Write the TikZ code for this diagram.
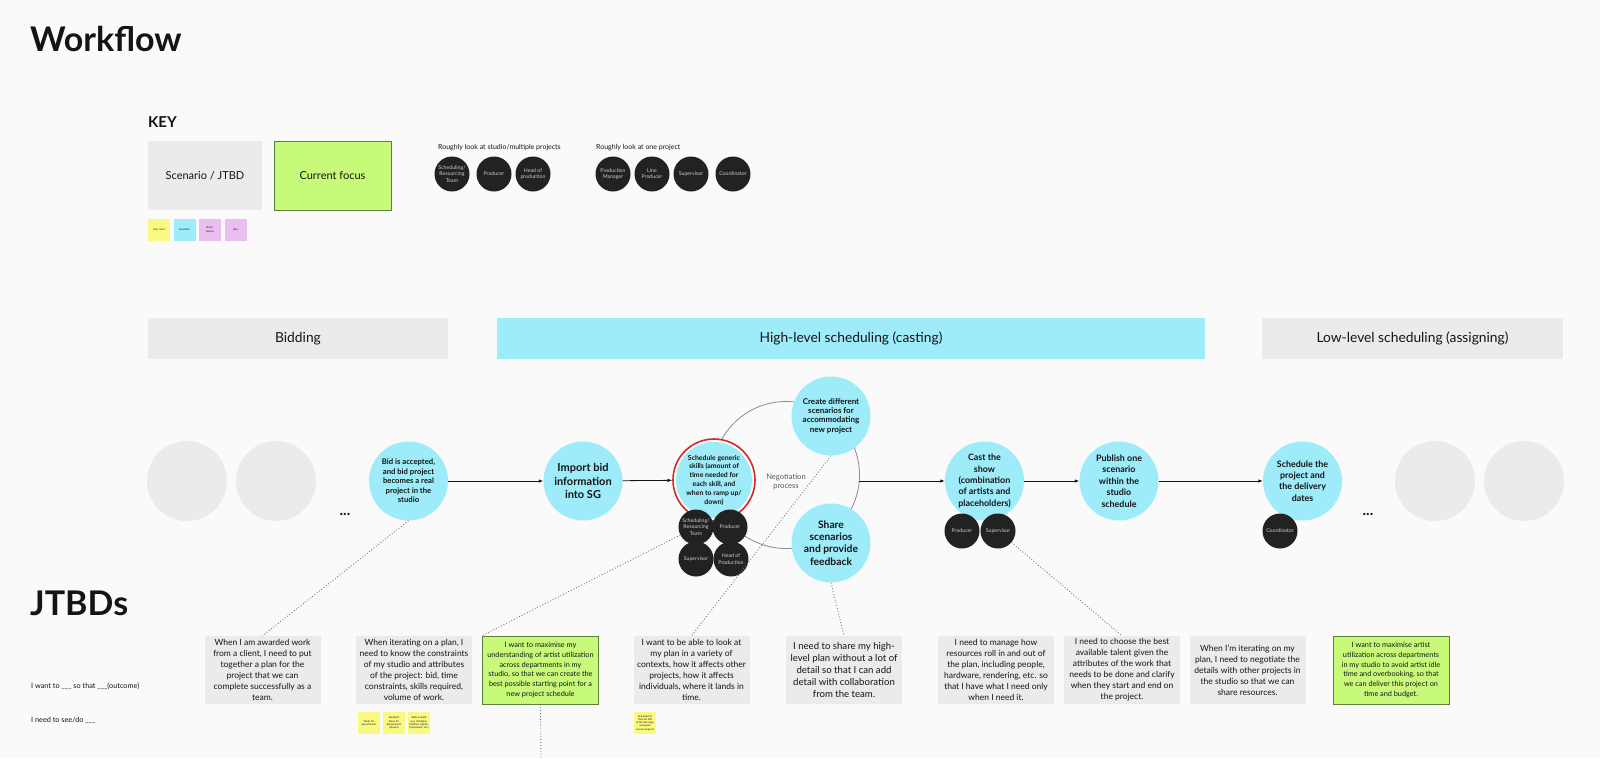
\documentclass[tikz,border=0pt]{standalone}
\usepackage{fontspec}
\setmainfont{Lato}
\usetikzlibrary{arrows.meta}
\definecolor{bg}{RGB}{250,250,250}
\definecolor{cyanc}{RGB}{158,235,250}
\definecolor{grayc}{RGB}{235,235,235}
\definecolor{greenc}{RGB}{200,250,122}
\definecolor{greenb}{RGB}{95,125,60}
\definecolor{darkc}{RGB}{34,34,34}
\definecolor{roletext}{RGB}{205,205,205}
\definecolor{yellowc}{RGB}{250,250,130}
\definecolor{pinkc}{RGB}{235,190,240}
\definecolor{redc}{RGB}{215,40,40}
\definecolor{inkc}{RGB}{20,20,20}
\definecolor{negc}{RGB}{140,140,140}
\definecolor{linkc}{RGB}{120,120,120}
\newcommand\fsz[2]{\fontsize{#1}{#2}\selectfont}
\begin{document}
\begin{tikzpicture}[x=1pt,y=-1pt,
  every node/.style={inner sep=0pt, text=inkc},
  stage/.style={circle, fill=cyanc, minimum size=79pt, align=center, font=\bfseries\fsz{8.9}{11.4}},
  ghost/.style={circle, fill=grayc, minimum size=80pt},
  role/.style={circle, fill=darkc, minimum size=35pt, align=center, text=roletext, font=\fsz{5.2}{6.2}},
  jtbd/.style={rectangle, fill=grayc, minimum width=116pt, minimum height=68pt, align=center, font=\fsz{8.5}{11}},
  focus/.style={rectangle, fill=greenc, draw=greenb, line width=0.8pt, minimum width=116pt, minimum height=68pt, align=center, font=\fsz{7.3}{9.8}},
  sticky/.style={rectangle, minimum size=22pt, align=center, font=\fsz{2.6}{3.2}},
  phase/.style={rectangle, minimum height=41pt, font=\fsz{13.8}{16}},
  flow/.style={draw=inkc, line width=0.8pt, -{Latex[length=4.5pt,width=3.5pt]}},
  link/.style={draw=linkc, line width=0.9pt, dotted},
  dots/.style={font=\bfseries\fsz{15}{18}},
]
\fill[bg] (0,0) rectangle (1600,758);
\useasboundingbox (0,0) rectangle (1600,758);

% titles
\node[anchor=base west, font=\bfseries\fsz{34}{38}] (title) at (30,51) {Workflow};
\node[anchor=base west, font=\bfseries\fsz{34}{38}] (jtitle) at (30,615) {JTBDs};

% key
\node[anchor=base west, font=\bfseries\fsz{15}{18}] (key) at (148,127) {KEY};
\node[rectangle, fill=grayc, minimum width=114pt, minimum height=69pt, font=\fsz{11}{13}] (kscen) at (205,175.5) {Scenario / JTBD};
\node[rectangle, fill=greenc, draw=greenb, line width=0.8pt, minimum width=117pt, minimum height=69pt, font=\fsz{11}{13}] (kfocus) at (332.5,175.5) {Current focus};
\node[sticky, fill=yellowc] (kuser) at (159,229.5) {User need};
\node[sticky, fill=cyanc] (kquest) at (184.5,229.5) {Question};
\node[sticky, fill=pinkc] (kbrief) at (210,229.5) {Brief /\\feature};
\node[sticky, fill=pinkc] (kidea) at (235.5,229.5) {Idea};

\node[anchor=base west, font=\fsz{7}{8.4}] (kstudio) at (438,149) {Roughly look at studio/multiple projects};
\node[role] (ka) at (452,174) {Scheduling/\\Resourcing\\Team};
\node[role] (kb) at (494,174) {Producer};
\node[role] (kc) at (533,174) {Head of\\production};
\node[anchor=base west, font=\fsz{7}{8.4}] (kone) at (596,149) {Roughly look at one project};
\node[role] (kd) at (613,174) {Production\\Manager};
\node[role] (ke) at (652,174) {Line\\Producer};
\node[role] (kf) at (691,174) {Supervisor};
\node[role] (kg) at (733,174) {Coordinator};

% phases
\node[phase, fill=grayc, minimum width=300pt] (pbid) at (298,338.5) {Bidding};
\node[phase, fill=cyanc, minimum width=708pt] (phigh) at (851,338.5) {High-level scheduling (casting)};
\node[phase, fill=grayc, minimum width=301pt] (plow) at (1412.5,338.5) {Low-level scheduling (assigning)};

% negotiation loop
\node[circle, draw=negc, line width=0.8pt, minimum size=147pt] (neg) at (786,475) {};
\node[align=center, text=black!65, font=\fsz{7.6}{9.5}] (negtxt) at (786,482) {Negotiation\\process};
\coordinate (negE) at (859,481);

% workflow circles
\node[ghost] (g1) at (187,481) {};
\node[ghost] (g2) at (276,481) {};
\node[dots, anchor=base] (d1) at (345,515) {...};
\node[stage, font=\bfseries\fsz{7.7}{9.5}] (bidC) at (408.5,481) {Bid is accepted,\\and bid project\\becomes a real\\project in the\\studio};
\node[stage, font=\bfseries\fsz{11}{13.5}] (importC) at (583,481) {Import bid\\information\\into SG};
\node[circle, draw=redc, line width=1.6pt, fill=bg, minimum size=82pt] (ring) at (714,480) {};
\node[stage, minimum size=76pt, font=\bfseries\fsz{6.9}{8.8}] (schedC) at (714,480) {Schedule generic\\skills (amount of\\time needed for\\each skill, and\\when to ramp up/\\down)};
\node[stage, font=\bfseries\fsz{8}{9.3}] (createC) at (831,416) {Create different\\scenarios for\\accommodating\\new project};
\node[stage, font=\bfseries\fsz{10.3}{12.3}] (shareC) at (831,543) {Share\\scenarios\\and provide\\feedback};
\node[stage] (castC) at (984.5,481) {Cast the\\show\\(combination\\of artists and\\placeholders)};
\node[stage] (publishC) at (1119,481) {Publish one\\scenario\\within the\\studio\\schedule};
\node[stage] (projC) at (1302.5,481) {Schedule the\\project and\\the delivery\\dates};
\node[dots, anchor=base] (d2) at (1368,515) {...};
\node[ghost] (g3) at (1435,481) {};
\node[ghost] (g4) at (1524,481) {};

% roles
\node[role] (srt) at (696,527) {Scheduling/\\Resourcing\\Team};
\node[role] (sprod) at (730,527) {Producer};
\node[role] (ssup) at (696,559) {Supervisor};
\node[role] (shead) at (731,559) {Head of\\Production};
\node[role] (cprod) at (962,531) {Producer};
\node[role] (csup) at (998,531) {Supervisor};
\node[role] (pcoord) at (1280,531) {Coordinator};

% flow arrows
\draw[flow] (bidC) -- (importC);
\draw[flow] (importC) -- (ring);
\draw[flow] (negE) -- (castC);
\draw[flow] (castC) -- (publishC);
\draw[flow] (publishC) -- (projC);

% JTBD boxes
\node[jtbd] (j1) at (262.5,670) {When I am awarded work\\from a client, I need to put\\together a plan for the\\project that we can\\complete successfully as a\\team.};
\node[jtbd] (j2) at (414,670) {When iterating on a plan, I\\need to know the constraints\\of my studio and attributes\\of the project: bid, time\\constraints, skills required,\\volume of work.};
\node[focus] (j3) at (540.5,670) {I want to maximise my\\understanding of artist utilization\\across departments in my\\studio, so that we can create the\\best possible starting point for a\\new project schedule};
\node[jtbd] (j4) at (691.5,670) {I want to be able to look at\\my plan in a variety of\\contexts, how it affects other\\projects, how it affects\\individuals, where it lands in\\time.};
\node[jtbd, font=\fsz{9.6}{12.2}] (j5) at (844,670) {I need to share my high-\\level plan without a lot of\\detail so that I can add\\detail with collaboration\\from the team.};
\node[jtbd] (j6) at (996,670) {I need to manage how\\resources roll in and out of\\the plan, including people,\\hardware, rendering, etc. so\\that I have what I need only\\when I need it.};
\node[jtbd] (j7) at (1122,670) {I need to choose the best\\available talent given the\\attributes of the work that\\needs to be done and clarify\\when they start and end on\\the project.};
\node[jtbd] (j8) at (1247.5,670) {When I'm iterating on my\\plan, I need to negotiate the\\details with other projects in\\the studio so that we can\\share resources.};
\node[focus] (j9) at (1391,670) {I want to maximise artist\\utilization across departments\\in my studio to avoid artist idle\\time and overbooking, so that\\we can deliver this project on\\time and budget.};

% stickies under JTBDs
\node[sticky, fill=yellowc] (s1) at (369,723) {Totals for\\departments};
\node[sticky, fill=yellowc] (s2) at (394,723) {Standard\\dates for\\departments\\(phases)};
\node[sticky, fill=yellowc] (s3) at (419,723) {Skills needed\\(e.g. Animator,\\Modeler, Lighter,\\Compositor, etc.)};
\node[sticky, fill=yellowc] (s4) at (645,723) {See projects\\that are still\\in the bid stage\\alongside\\current projects};

% left labels
\node[anchor=west, font=\fsz{7.3}{9}] (lwant) at (31,686) {I want to \_\_\_ so that \_\_\_(outcome)};
\node[anchor=west, font=\fsz{7.3}{9}] (lneed) at (31,720) {I need to see/do \_\_\_};

% dotted links
\coordinate (bottomend) at (541,758);
\draw[link] (bidC.south) -- (j1.north);
\draw[link] (srt) -- (j3.north west);
\draw[link] (createC.south) -- (j4.north);
\draw[link] (shareC.south) -- (j5.north);
\draw[link] (csup) -- (j7.north);
\draw[link] (j3.south) -- (bottomend);
\end{tikzpicture}
\end{document}
